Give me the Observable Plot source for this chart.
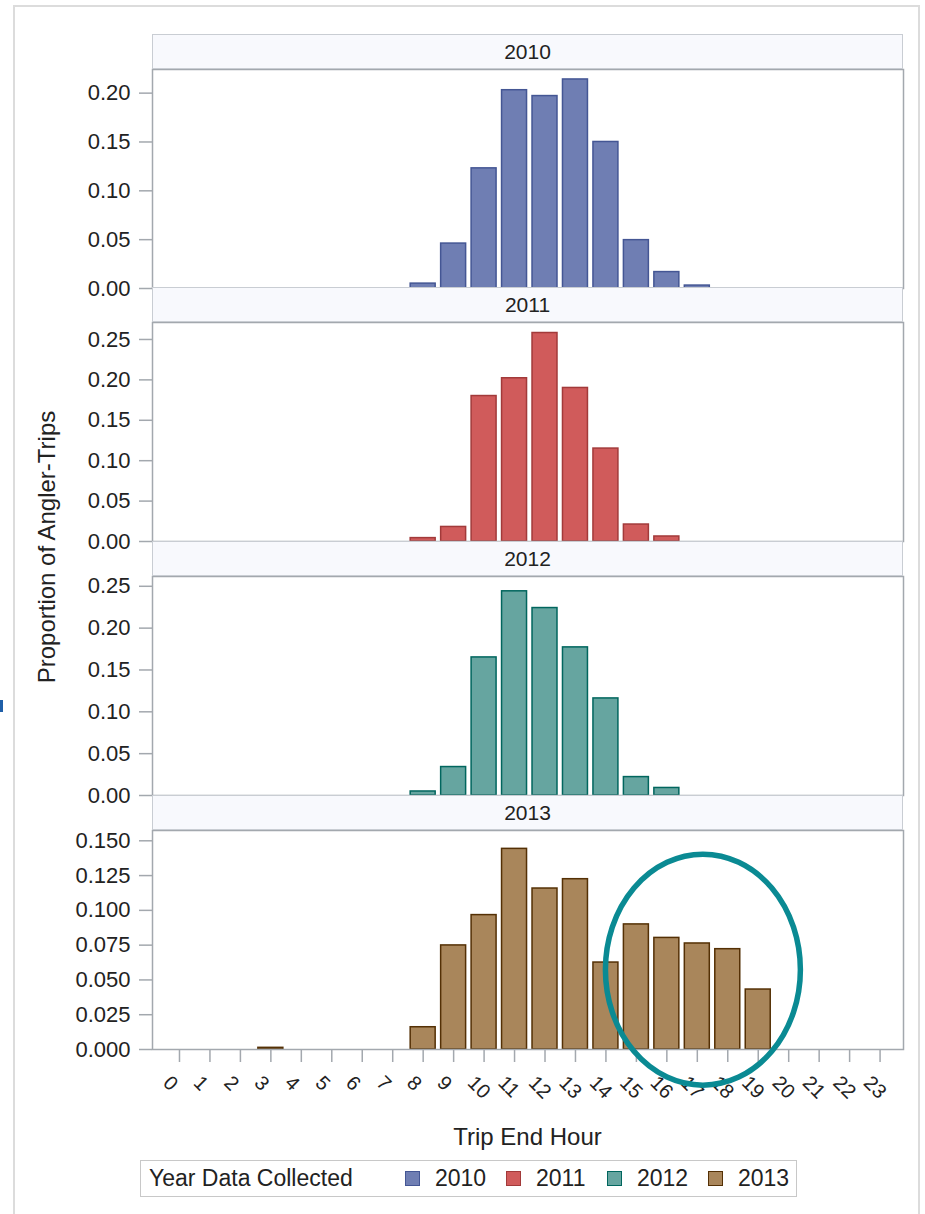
<!DOCTYPE html>
<html><head><meta charset="utf-8">
<script src="https://cdn.jsdelivr.net/npm/d3@7"></script>
<script src="https://cdn.jsdelivr.net/npm/@observablehq/plot@0.6"></script>
<style>
body{margin:0;background:#fff;font-family:"Liberation Sans",Arial,sans-serif;color:#222}
#root{position:relative;width:925px;height:1214px;overflow:hidden;background:#fff}
.abs{position:absolute}
.hdr{position:absolute;left:152px;width:751px;height:35px;box-sizing:border-box;background:#f8f9fd;border:1px solid #c9cdd3;text-align:center;font-size:21px;line-height:33px;color:#222}
.plotwrap{position:absolute;left:0}
.plotwrap svg{overflow:visible}
</style></head><body><div id="root"></div>
<script>
// ---- data ----
const hours = [0,1,2,3,4,5,6,7,8,9,10,11,12,13,14,15,16,17,18,19,20,21,22,23];
const years = ["2010","2011","2012","2013"];
const prop2010 = [0,0,0,0,0,0,0,0,0.005,0.046,0.123,0.203,0.197,0.214,0.150,0.0495,0.0168,0.003,0,0,0,0,0,0];
const prop2011 = [0,0,0,0,0,0,0,0,0.0042,0.018,0.180,0.202,0.258,0.190,0.115,0.021,0.0062,0,0,0,0,0,0,0];
const prop2012 = [0,0,0,0,0,0,0,0,0.0048,0.034,0.165,0.244,0.224,0.177,0.116,0.022,0.009,0,0,0,0,0,0,0];
const prop2013 = [0,0,0,0.0012,0,0,0,0,0.016,0.0748,0.0966,0.1442,0.1157,0.1224,0.0625,0.0899,0.0802,0.0762,0.0721,0.0431,0,0,0,0];
const series = [prop2010, prop2011, prop2012, prop2013];
const ticks2010 = [0,0.05,0.10,0.15,0.20];
const ticks2011 = [0,0.05,0.10,0.15,0.20,0.25];
const ticks2012 = [0,0.05,0.10,0.15,0.20,0.25];
const ticks2013 = [0,0.025,0.05,0.075,0.10,0.125,0.150];
const yTicks = [ticks2010, ticks2011, ticks2012, ticks2013];
const yMax = [0.2242, 0.271, 0.2617, 0.1574];
const tickDecimals = [2,2,2,3];
const fills = ["#6f7eb3","#d05b5b","#66a5a0","#a9865b"];
const strokes = ["#445694","#a23a3a","#01665e","#543005"];
const yTitle = "Proportion of Angler-Trips";
const xTitle = "Trip End Hour";
const legendTitle = "Year Data Collected";
// highlighted region (2013 panel), in data units
const highlight = {x1: 14, x2: 20.4, y1: -0.026, y2: 0.14};

// ---- layout ----
const W = 925, ML = 152, MR = 22, plotH = 219, hdrH = 35;
const plotBottom = [287.8, 541, 795.3, 1049.3];
const root = document.getElementById("root");
const font = '"Liberation Sans", Arial, sans-serif';

function div(cls, css, text){
  const d = document.createElement("div");
  if (cls) d.className = cls;
  Object.assign(d.style, css);
  if (text != null) d.textContent = text;
  root.appendChild(d);
  return d;
}

// outer page frame + small mark
div("abs", {left:"13px", top:"5px", width:"907px", height:"1240px", border:"2px solid #dcdcdc", boxSizing:"border-box"});
div("abs", {left:"0px", top:"700px", width:"3px", height:"12px", background:"#1f5fa8"});

function ellipseMark(a){
  return (index, scales) => {
    const x = scales.x, y = scales.y;
    const step = x(1) - x(0);
    const bw = step * (1 - 0.18);
    const c = h => { const f = Math.floor(h); return x(f) + bw/2 + (h - f)*step; };
    const el = document.createElementNS("http://www.w3.org/2000/svg", "ellipse");
    el.setAttribute("cx", (c(a.x1) + c(a.x2))/2);
    el.setAttribute("rx", (c(a.x2) - c(a.x1))/2);
    el.setAttribute("cy", (y(a.y1) + y(a.y2))/2);
    el.setAttribute("ry", (y(a.y1) - y(a.y2))/2);
    el.setAttribute("fill", "none");
    el.setAttribute("stroke", "#0a8a93");
    el.setAttribute("stroke-width", "5.5");
    return el;
  };
}

series.forEach((vals, i) => {
  const data = hours.map((h, k) => ({hour: h, value: vals[k]})).filter(d => d.value > 0);
  const last = i === 3;
  const mt = 10, mb = last ? 80 : 12;
  const marks = [
    Plot.barY(data, {x: "hour", y: "value", fill: fills[i], stroke: strokes[i], strokeWidth: 1.5}),
    Plot.axisY({ticks: yTicks[i], label: null, tickSize: 13, tickPadding: 9, tickFormat: d3.format(`.${tickDecimals[i]}f`),
                stroke: "#a3a8ae", fill: "#222", fontSize: 22, strokeWidth: 1.5})
  ];
  if (last) {
    marks.push(Plot.axisX({ticks: hours, label: null, tickSize: 13, tickFormat: () => "", stroke: "#a3a8ae", strokeWidth: 1.5}));
    marks.push(Plot.text(hours, {x: d => d, text: d => String(d), frameAnchor: "bottom", rotate: 45,
      textAnchor: "start", lineAnchor: "middle", dx: -13, dy: 30, fontSize: 20, fill: "#222", ariaLabel: "xlab"}));
  }
  marks.push(Plot.frame({stroke: "#a3a8ae", strokeWidth: 1.5}));
  if (last) marks.push(ellipseMark(highlight));
  const xOpts = {type: "band", domain: hours, paddingInner: 0.18, paddingOuter: 0.4175, align: 0.57, round: false, label: null};
  if (!last) xOpts.axis = null;
  const svg = Plot.plot({
    width: W, height: mt + plotH + mb,
    marginLeft: ML, marginRight: MR, marginTop: mt, marginBottom: mb,
    x: xOpts,
    y: {domain: [0, yMax[i]], label: null},
    style: {fontFamily: font, fontSize: "22px", color: "#222", background: "none", overflow: "visible"},
    marks
  });
  // stretch rotated hour labels vertically
  svg.querySelectorAll('g[aria-label="xlab"] text').forEach(t => {
    const tr = t.getAttribute("transform") || "";
    t.setAttribute("transform", tr.replace("rotate(", "scale(1,1.4) rotate("));
  });
  const wrap = div("plotwrap", {top: (plotBottom[i] - plotH - mt) + "px"});
  wrap.appendChild(svg);
});

// panel headers
years.forEach((y, i) => {
  div("hdr", {top: (plotBottom[i] - plotH - hdrH) + "px"}, y);
});

// y-axis title
div("abs", {left: "47px", top: "547px", transform: "translate(-50%,-50%) rotate(-90deg)", whiteSpace: "nowrap",
  fontSize: "24px", lineHeight: "24px", color: "#222"}, yTitle);

// x-axis title
div("abs", {left: ((ML + W - MR)/2) + "px", top: "1125px", transform: "translateX(-50%)", whiteSpace: "nowrap",
  fontSize: "24px", lineHeight: "24px", color: "#222"}, xTitle);

// legend
const leg = div("abs", {left: "140px", top: "1160px", width: "657px", height: "37px", border: "1px solid #c8c8c8",
  boxSizing: "border-box", background: "#fff"});
const lt = document.createElement("div");
Object.assign(lt.style, {position: "absolute", left: "8px", top: "0px", fontSize: "23px", lineHeight: "35px", whiteSpace: "nowrap"});
lt.textContent = legendTitle;
leg.appendChild(lt);
years.forEach((y, i) => {
  const sw = document.createElement("div");
  Object.assign(sw.style, {position: "absolute", left: (264 + 101*i) + "px", top: "10px", width: "15px", height: "15px",
    boxSizing: "border-box", background: fills[i], border: "1.5px solid " + strokes[i]});
  leg.appendChild(sw);
  const tx = document.createElement("div");
  Object.assign(tx.style, {position: "absolute", left: (294 + 101*i) + "px", top: "0px", fontSize: "23px", lineHeight: "35px", whiteSpace: "nowrap"});
  tx.textContent = y;
  leg.appendChild(tx);
});
</script>
</body></html>
